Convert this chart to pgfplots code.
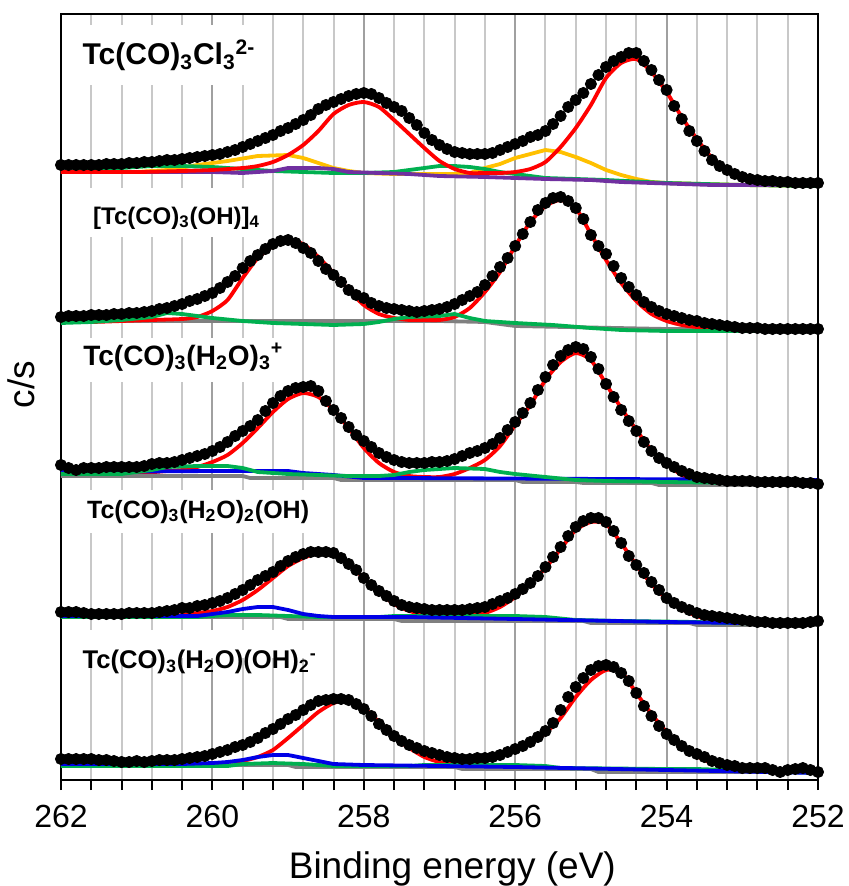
\documentclass[border=0pt]{standalone}
\usepackage{fontspec}
\setmainfont{Liberation Sans}
\usepackage{pgfplots}
\usepackage{pgfplotstable}
\pgfplotsset{compat=1.18}

\definecolor{fitred}{RGB}{255,0,0}
\definecolor{amber}{RGB}{255,192,0}
\definecolor{xlgreen}{RGB}{0,176,80}
\definecolor{xlpurple}{RGB}{112,48,160}
\definecolor{xlblue}{RGB}{0,0,230}
\definecolor{xlgray}{RGB}{128,128,128}
\definecolor{gridminor}{RGB}{200,200,200}
\definecolor{gridmajor}{RGB}{160,160,160}

% measured spectra, one column per panel (y in picture units, downwards)
\pgfplotstableread{
E P1 P2 P3 P4 P5
262.0 165 317 465 612 759
261.9 165 316 468 612 759
261.8 165 316 470 612 759
261.7 165 316 468 613 759
261.6 165 315 468 614 759
261.5 165 315 468 614 760
261.4 164 315 467 614 760
261.3 164 314 467 614 761
261.2 164 314 467 614 762
261.1 163 313 467 613 762
261.0 163 313 467 613 761
260.9 162 312 466 613 762
260.8 162 311 464 613 761
260.7 161 309 463 612 760
260.6 160 308 463 611 760
260.5 160 306 462 610 760
260.4 159 304 460 608 759
260.3 158 301 458 608 758
260.2 157 299 456 606 757
260.1 156 296 454 605 756
260.0 155 293 451 603 754
259.9 154 288 447 601 752
259.8 152 282 442 598 750
259.7 150 276 436 594 747
259.6 147 268 431 590 745
259.5 144 261 426 585 742
259.4 141 255 420 580 738
259.3 138 249 411 576 733
259.2 135 244 403 572 729
259.1 131 241 396 566 724
259.0 128 240 391 561 719
258.9 124 243 388 557 715
258.8 120 248 387 554 710
258.7 115 253 386 552 705
258.6 109 261 391 552 701
258.5 105 269 401 552 700
258.4 102 275 410 553 699
258.3 99 282 418 558 699
258.2 96 290 427 564 700
258.1 94 295 435 570 704
258.0 93 298 441 578 709
257.9 94 303 447 585 716
257.8 98 306 453 591 724
257.7 103 308 457 596 730
257.6 107 309 460 601 736
257.5 111 310 462 605 741
257.4 118 311 463 607 745
257.3 125 312 463 608 748
257.2 133 311 463 609 751
257.1 140 310 462 610 753
257.0 145 309 462 610 755
256.9 149 307 461 610 757
256.8 152 304 459 610 758
256.7 153 300 456 610 759
256.6 154 296 453 609 759
256.5 154 292 451 608 758
256.4 154 285 448 607 758
256.3 153 276 444 604 757
256.2 150 267 438 601 755
256.1 147 258 430 598 752
256.0 144 246 422 594 749
255.9 141 234 413 589 746
255.8 137 222 403 583 742
255.7 135 210 390 576 737
255.6 131 203 377 567 731
255.5 124 198 365 557 723
255.4 116 197 356 547 710
255.3 107 201 350 536 697
255.2 100 208 347 527 687
255.1 93 219 349 521 678
255.0 84 235 357 518 670
254.9 75 246 369 518 666
254.8 67 254 384 522 665
254.7 61 266 397 531 667
254.6 57 278 410 543 673
254.5 53 287 421 556 681
254.4 53 295 431 565 693
254.3 61 302 442 573 706
254.2 70 307 451 582 716
254.1 80 311 458 590 726
254.0 90 314 463 598 734
253.9 106 316 467 603 740
253.8 119 318 471 607 746
253.7 131 320 474 610 751
253.6 141 321 477 613 754
253.5 151 323 478 615 757
253.4 160 324 479 616 761
253.3 166 325 480 617 763
253.2 170 326 481 618 765
253.1 174 327 481 619 766
253.0 177 328 481 620 768
252.9 179 328 481 621 768
252.8 180 328 482 622 768
252.7 181 329 482 622 768
252.6 181 329 482 623 770
252.5 182 329 482 623 772
252.4 182 329 482 623 770
252.3 183 329 482 623 769
252.2 183 329 483 623 768
252.1 183 329 483 622 770
252.0 183 329 484 621 772
}\spectra

\newcommand{\lbl}[1]{\fontsize{#1}{#1}\selectfont\bfseries}

\begin{document}
\begin{tikzpicture}
\begin{axis}[
  name=ax,
  scale only axis,
  width=378.5bp, height=383bp,
  x dir=reverse, xmin=252, xmax=262,
  y dir=reverse, ymin=14, ymax=780,
  xtick={252,254,...,262},
  minor x tick num=4,
  ytick=\empty,
  xmajorgrids, xminorgrids,
  major grid style={draw=gridmajor, line width=1bp},
  minor grid style={draw=gridminor, line width=1bp},
  tick align=outside,
  xtick pos=left,
  major tick length=5bp, minor tick length=5bp,
  tick style={black, line width=1bp},
  axis line style={black, line width=1bp},
  /pgf/number format/assume math mode=true,
  xticklabel style={font=\fontsize{16bp}{19bp}\selectfont, yshift=-4bp},
  xlabel={Binding energy (eV)},
  xlabel style={font=\fontsize{18.5bp}{22bp}\selectfont,
    at={(axis description cs:0.517,0)}, anchor=base, yshift=-49bp},
  ylabel={c/s},
  ylabel style={font=\fontsize{18.5bp}{22bp}\selectfont,
    at={(axis description cs:-0.025,0.516)}, anchor=south},
  clip=false,
  comp/.style={line width=1.9bp, line join=round},
  fit/.style={fitred, line width=1.9bp, smooth, tension=0.4},
]

% ---- panel 1: Tc(CO)3Cl3 2-
\addplot[amber, comp] coordinates {
(262.0,172)(261.0,172)(260.6,170)(260.2,165)(259.8,161)(259.4,156)(259.0,155)(258.8,158)(258.6,163)(258.4,168)(258.2,171)(258.0,173)(257.6,174)(257.2,174)(256.8,174)(256.6,173)(256.4,168)(256.2,164)(256.0,158)(255.8,154)(255.6,150)(255.4,152)(255.2,157)(255.0,163)(254.8,170)(254.6,175)(254.4,179)(254.2,182)(254.0,183)(253.5,184)(253.0,185)(252.0,186)};
\addplot[xlgreen, comp] coordinates {
(262.0,172)(261.6,171)(261.2,168)(260.8,166)(260.4,166)(260.0,167)(259.6,169)(259.2,171)(258.8,172)(258.4,173)(258.0,173)(257.6,172)(257.4,170)(257.2,168)(257.0,166)(256.8,166)(256.6,167)(256.4,169)(256.2,172)(256.0,174)(255.8,176)(255.6,178)(255.2,179)(254.8,180)(254.0,183)(253.0,185)(252.0,186)};
\addplot[xlpurple, comp] coordinates {
(262.0,172)(260.0,172)(259.6,173)(259.2,171)(259.0,168)(258.6,168)(258.4,169)(258.2,172)(257.8,173)(257.4,174)(257.0,176)(256.4,177)(256.0,178)(255.6,179)(255.0,180)(254.6,182)(254.2,183)(253.8,184)(253.4,185)(252.0,185)};
\addplot[fit] coordinates {
(262.0,172)(261.0,172)(260.4,171)(260.0,170)(259.6,168)(259.4,166)(259.2,162)(259.0,155)(258.8,145)(258.6,131)(258.4,114)(258.2,105)(258.0,102)(257.8,107)(257.6,120)(257.4,134)(257.2,148)(257.0,161)(256.8,169)(256.6,173)(256.4,173)(256.2,173)(256.0,172)(255.8,169)(255.6,162)(255.4,147)(255.2,128)(255.0,105)(254.8,78)(254.6,63)(254.4,59)(254.2,72)(254.0,92)(253.8,117)(253.6,139)(253.4,158)(253.2,170)(253.0,178)(252.8,181)(252.6,183)(252.4,184)(252.0,185)};

% ---- panel 2: [Tc(CO)3(OH)]4
\addplot[xlgray, comp] coordinates {
(262.0,321)(257.0,321)(256.4,322)(256.0,326)(254.0,329)(252.0,330)};
\addplot[fit] coordinates {
(262.0,322)(261.6,322)(261.2,321)(260.8,320)(260.4,319)(260.2,317)(260.0,311)(259.8,300)(259.6,278)(259.4,258)(259.2,246)(259.0,241)(258.8,244)(258.6,257)(258.4,273)(258.2,290)(258.0,305)(257.8,314)(257.6,318)(257.4,320)(257.2,320)(257.0,320)(256.8,317)(256.6,308)(256.4,292)(256.2,272)(256.0,246)(255.8,222)(255.6,206)(255.4,200)(255.2,208)(255.0,234)(254.8,260)(254.6,283)(254.4,301)(254.2,314)(254.0,321)(253.8,325)(253.6,327)(253.2,328)(252.0,330)};
\addplot[xlgreen, comp] coordinates {
(262.0,323)(261.6,322)(261.2,320)(260.8,317)(260.6,313)(260.4,314)(260.2,316)(260.0,318)(259.6,321)(259.2,323)(258.8,324)(258.4,325)(258.0,324)(257.8,322)(257.6,319)(257.4,317)(257.0,316)(256.8,314)(256.6,318)(256.4,321)(256.0,323)(255.5,325)(255.0,328)(254.6,330)(254.0,331)(252.0,331)};

% ---- panel 3: Tc(CO)3(H2O)3 +
\addplot[fit] coordinates {
(262.0,473)(261.0,473)(260.6,471)(260.4,470)(260.2,467)(260.0,462)(259.8,455)(259.6,443)(259.4,428)(259.2,412)(259.0,399)(258.8,393)(258.6,397)(258.4,410)(258.2,428)(258.0,448)(257.8,463)(257.6,472)(257.4,476)(257.2,477)(257.0,477)(256.8,474)(256.6,468)(256.4,460)(256.2,446)(256.0,425)(255.8,405)(255.6,380)(255.4,362)(255.2,353)(255.0,360)(254.8,384)(254.6,408)(254.4,430)(254.2,450)(254.0,464)(253.8,475)(253.6,481)(253.4,484)(252.0,485)};
\addplot[xlgray, comp] coordinates {
(262.0,476)(259.6,476)(259.5,478)(258.4,478)(258.3,480)(256.0,480)(255.9,482)(255.2,482)(255.1,483)(254.2,483)(254.1,485)(252.0,485)};
\addplot[xlblue, comp] coordinates {
(262.0,472)(260.0,471)(259.0,471)(258.8,473)(258.4,475)(258.0,478)(257.5,478)(252.0,480)};
\addplot[xlgreen, comp] coordinates {
(262.0,474)(261.2,474)(260.8,470)(260.6,467)(260.2,466)(259.8,466)(259.6,468)(259.4,472)(259.0,474)(258.6,475)(258.2,476)(257.8,476)(257.6,475)(257.4,472)(257.2,470)(256.8,468)(256.4,469)(256.2,472)(256.0,474)(255.6,477)(255.2,480)(254.8,481)(254.0,482)(253.0,483)(252.0,484)};

% ---- panel 4: Tc(CO)3(H2O)2(OH)
\addplot[fit] coordinates {
(262.0,616)(260.6,616)(260.2,613)(260.0,611)(259.8,607)(259.6,600)(259.4,590)(259.2,578)(259.0,566)(258.8,558)(258.6,553)(258.4,554)(258.2,564)(258.0,578)(257.8,592)(257.6,604)(257.4,611)(257.2,614)(257.0,615)(256.6,615)(256.4,613)(256.2,607)(256.0,597)(255.8,583)(255.6,568)(255.4,549)(255.2,530)(255.0,522)(254.8,524)(254.6,543)(254.4,565)(254.2,584)(254.0,599)(253.8,609)(253.6,616)(253.4,620)(253.0,623)(252.0,625)};
\addplot[xlgray, comp] coordinates {
(262.0,617)(259.1,617)(259.0,619)(257.6,619)(257.5,621)(255.1,621)(255.0,623)(253.7,623)(253.6,625)(252.0,625)};
\addplot[xlgreen, comp] coordinates {
(262.0,617)(260.2,617)(259.8,615)(259.4,615)(259.0,616)(258.6,617)(257.8,617)(257.6,616)(257.0,616)(256.0,616)(255.6,617)(255.2,620)(254.6,621)(253.6,622)(253.2,623)(252.0,624)};
\addplot[xlblue, comp] coordinates {
(262.0,616)(260.2,616)(260.0,614)(259.8,612)(259.6,609)(259.4,607)(259.2,607)(259.0,610)(258.8,614)(258.6,616)(258.4,617)(257.4,617)(256.0,619)(254.0,622)(252.0,624)};

% ---- panel 5: Tc(CO)3(H2O)(OH)2 -
\addplot[fit] coordinates {
(262.0,764)(259.8,764)(259.6,761)(259.4,757)(259.2,750)(259.0,738)(258.8,725)(258.6,712)(258.4,703)(258.2,700)(258.0,708)(257.8,722)(257.6,737)(257.4,748)(257.2,757)(257.0,762)(256.8,763)(256.6,763)(256.4,760)(256.2,755)(256.0,750)(255.8,743)(255.6,733)(255.4,718)(255.2,697)(255.0,680)(254.8,670)(254.6,672)(254.4,693)(254.2,714)(254.0,732)(253.8,746)(253.6,756)(253.4,763)(253.0,768)(252.5,771)(252.0,772)};
\addplot[xlgray, comp] coordinates {
(262.0,765)(259.0,765)(258.9,767)(256.8,767)(256.7,769)(255.0,769)(254.9,772)(252.0,772)};
\addplot[xlgreen, comp] coordinates {
(262.0,766)(259.8,766)(259.6,764)(259.2,763)(258.8,764)(258.4,766)(257.4,766)(257.2,765)(256.0,765)(255.6,766)(255.4,768)(254.0,769)(253.6,769)(253.2,770)(252.0,773)};
\addplot[xlblue, comp] coordinates {
(262.0,764)(260.4,764)(260.0,763)(259.8,762)(259.6,760)(259.4,757)(259.2,755)(259.0,755)(258.8,758)(258.6,761)(258.4,764)(258.0,765)(256.0,767)(254.0,770)(252.0,773)};

% ---- measured points on top
\pgfplotsinvokeforeach{P1,P2,P3,P4,P5}{
  \addplot[only marks, mark=*, mark size=2.8bp, black] table[x=E, y=#1] {\spectra};
}

% ---- sample labels on white boxes
\fill[white] (axis cs:261.79,25) rectangle (axis cs:259.21,85);
\fill[white] (axis cs:261.82,188) rectangle (axis cs:259.24,237);
\fill[white] (axis cs:261.88,338) rectangle (axis cs:258.97,382);
\fill[white] (axis cs:261.82,490) rectangle (axis cs:258.71,533);
\fill[white] (axis cs:261.97,630) rectangle (axis cs:258.58,658);
\node[anchor=base west, inner sep=0pt, font=\lbl{15bp}] at (axis cs:261.72,65)
  {Tc(CO)\textsubscript{3}Cl\textsubscript{3}\textsuperscript{2-}};
\node[anchor=base west, inner sep=0pt, font=\lbl{12bp}] at (axis cs:261.58,224)
  {[Tc(CO)\textsubscript{3}(OH)]\textsubscript{4}};
\node[anchor=base west, inner sep=0pt, font=\lbl{14bp}] at (axis cs:261.71,365)
  {Tc(CO)\textsubscript{3}(H\textsubscript{2}O)\textsubscript{3}\textsuperscript{+}};
\node[anchor=base west, inner sep=0pt, font=\lbl{12.5bp}] at (axis cs:261.66,518)
  {Tc(CO)\textsubscript{3}(H\textsubscript{2}O)\textsubscript{2}(OH)};
\node[anchor=base west, inner sep=0pt, font=\lbl{12.8bp}] at (axis cs:261.72,668)
  {Tc(CO)\textsubscript{3}(H\textsubscript{2}O)(OH)\textsubscript{2}\textsuperscript{-}};
\end{axis}
\pgfresetboundingbox
\path[use as bounding box] ([xshift=-30.5bp,yshift=-53bp]ax.south west)
  rectangle ([xshift=15.5bp,yshift=7bp]ax.north east);
\end{tikzpicture}
\end{document}
